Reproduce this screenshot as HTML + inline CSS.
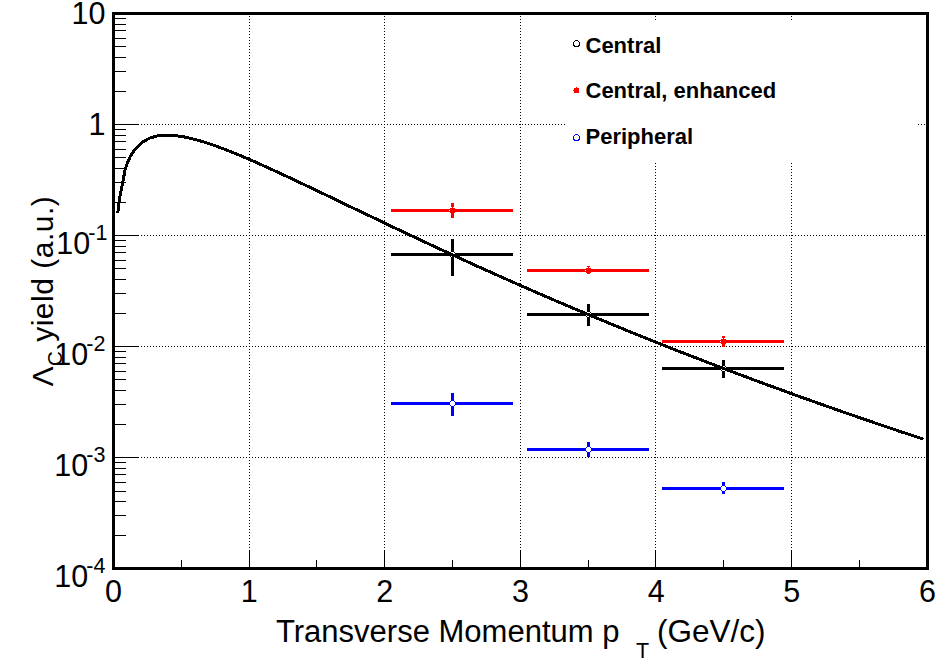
<!DOCTYPE html><html><head><meta charset="utf-8"><style>html,body{margin:0;padding:0;background:#fff;width:946px;height:669px;overflow:hidden}svg{display:block}text{font-family:"Liberation Sans",sans-serif}</style></head><body>
<svg width="946" height="669" viewBox="0 0 946 669">
<rect x="0" y="0" width="946" height="669" fill="#fff"/>
<g stroke="#000" stroke-width="1" stroke-dasharray="1 2" shape-rendering="crispEdges"><line x1="114" y1="124.5" x2="926" y2="124.5"/><line x1="114" y1="235.5" x2="926" y2="235.5"/><line x1="114" y1="346.5" x2="926" y2="346.5"/><line x1="114" y1="457.5" x2="926" y2="457.5"/><line x1="249.5" y1="13" x2="249.5" y2="567"/><line x1="384.5" y1="13" x2="384.5" y2="567"/><line x1="520.5" y1="13" x2="520.5" y2="567"/><line x1="655.5" y1="13" x2="655.5" y2="567"/><line x1="791.5" y1="13" x2="791.5" y2="567"/></g>
<rect x="566" y="21" width="352" height="142" fill="#fff"/>
<path d="M115 535.5H126M115 515.5H126M115 501.5H126M115 491.5H126M115 482.5H126M115 474.5H126M115 468.5H126M115 462.5H126M115 457.5H139M115 424.5H126M115 404.5H126M115 390.5H126M115 379.5H126M115 371.5H126M115 363.5H126M115 357.5H126M115 351.5H126M115 346.5H139M115 313.5H126M115 293.5H126M115 279.5H126M115 268.5H126M115 260.5H126M115 252.5H126M115 246.5H126M115 240.5H126M115 235.5H139M115 202.5H126M115 182.5H126M115 168.5H126M115 157.5H126M115 149.5H126M115 141.5H126M115 135.5H126M115 129.5H126M115 124.5H139M115 91.5H126M115 71.5H126M115 57.5H126M115 46.5H126M115 38.5H126M115 30.5H126M115 24.5H126M115 18.5H126M115 91.5H126M115 71.5H126M115 57.5H126M115 46.5H126M115 38.5H126M115 30.5H126M115 24.5H126M115 18.5H126M181.5 567V560M249.5 567V551M316.5 567V560M384.5 567V551M452.5 567V560M520.5 567V551M588.5 567V560M655.5 567V551M723.5 567V560M791.5 567V551M859.5 567V560" stroke="#000" stroke-width="1" fill="none" shape-rendering="crispEdges"/>
<rect x="113.5" y="13.5" width="814" height="555" fill="none" stroke="#000" stroke-width="3" shape-rendering="crispEdges"/>
<g font-size="30.5" fill="#000">
<text x="105.5" y="24" text-anchor="end">10</text>
<text x="105.5" y="135" text-anchor="end">1</text>
<text x="107.4" y="254" text-anchor="end">10<tspan dx="-2" dy="-14" font-size="21.5">-1</tspan></text>
<text x="105.4" y="365" text-anchor="end">10<tspan dx="-2" dy="-14" font-size="21.5">-2</tspan></text>
<text x="105.4" y="476" text-anchor="end">10<tspan dx="-2" dy="-14" font-size="21.5">-3</tspan></text>
<text x="105.4" y="587" text-anchor="end">10<tspan dx="-2" dy="-14" font-size="21.5">-4</tspan></text>
<text x="113.5" y="602" text-anchor="middle">0</text>
<text x="249.16666666666666" y="602" text-anchor="middle">1</text>
<text x="384.8333333333333" y="602" text-anchor="middle">2</text>
<text x="520.5" y="602" text-anchor="middle">3</text>
<text x="656.1666666666666" y="602" text-anchor="middle">4</text>
<text x="791.8333333333333" y="602" text-anchor="middle">5</text>
<text x="927.5" y="602" text-anchor="middle">6</text>
</g>
<text x="276" y="642" font-size="31">Transverse Momentum p</text>
<text x="636" y="657.5" font-size="21.5">T</text>
<text x="657" y="642" font-size="31.5">(GeV/c)</text>
<g transform="translate(53,386.5) rotate(-90)"><text x="0" y="0" font-size="30" letter-spacing="0.5">Λ<tspan font-size="20.5" dy="8.5">C</tspan><tspan dy="-8.5"> yield (a.u.)</tspan></text></g>
<g font-size="22" font-weight="bold"><text x="585.5" y="53">Central</text><text x="585.5" y="98">Central, enhanced</text><text x="585.5" y="144">Peripheral</text></g>
<circle cx="576.5" cy="43.5" r="3" fill="#fff" stroke="#000" stroke-width="1" shape-rendering="crispEdges"/>
<g fill="#f00" shape-rendering="crispEdges"><rect x="574" y="88" width="5" height="5"/><rect x="576" y="87" width="1" height="1"/><rect x="573" y="90" width="1" height="1"/></g>
<circle cx="576.5" cy="137.5" r="3" fill="#fff" stroke="#00f" stroke-width="1" shape-rendering="crispEdges"/>
<g fill="#000" shape-rendering="crispEdges"><rect x="391" y="253" width="122" height="3"/><rect x="451" y="239" width="3" height="37"/></g><g shape-rendering="crispEdges"><rect x="450" y="252" width="5" height="5" fill="#fff"/><g fill="#000"><rect x="450" y="252" width="1" height="1"/><rect x="454" y="252" width="1" height="1"/><rect x="450" y="256" width="1" height="1"/><rect x="454" y="256" width="1" height="1"/></g></g>
<g fill="#f00" shape-rendering="crispEdges"><rect x="391" y="209" width="122" height="3"/><rect x="451" y="203" width="3" height="15"/></g><rect x="450" y="208" width="5" height="5" fill="#f00" shape-rendering="crispEdges"/><g fill="#fff" shape-rendering="crispEdges"><rect x="451" y="207" width="1" height="1"/><rect x="453" y="207" width="1" height="1"/><rect x="449" y="210" width="1" height="1"/></g>
<g fill="#00f" shape-rendering="crispEdges"><rect x="391" y="402" width="122" height="3"/><rect x="451" y="393" width="3" height="23"/></g><g shape-rendering="crispEdges"><rect x="450" y="401" width="5" height="5" fill="#fff"/><g fill="#00f"><rect x="450" y="401" width="1" height="1"/><rect x="454" y="401" width="1" height="1"/><rect x="450" y="405" width="1" height="1"/><rect x="454" y="405" width="1" height="1"/></g></g>
<g fill="#000" shape-rendering="crispEdges"><rect x="527" y="313" width="122" height="3"/><rect x="587" y="304" width="3" height="22"/></g><g shape-rendering="crispEdges"><rect x="586" y="312" width="5" height="5" fill="#fff"/><g fill="#000"><rect x="586" y="312" width="1" height="1"/><rect x="590" y="312" width="1" height="1"/><rect x="586" y="316" width="1" height="1"/><rect x="590" y="316" width="1" height="1"/></g></g>
<g fill="#f00" shape-rendering="crispEdges"><rect x="527" y="269" width="122" height="3"/><rect x="587" y="266" width="3" height="8"/></g><rect x="586" y="268" width="5" height="5" fill="#f00" shape-rendering="crispEdges"/><g fill="#fff" shape-rendering="crispEdges"><rect x="587" y="267" width="1" height="1"/><rect x="589" y="267" width="1" height="1"/><rect x="585" y="270" width="1" height="1"/></g>
<g fill="#00f" shape-rendering="crispEdges"><rect x="527" y="448" width="122" height="3"/><rect x="587" y="442" width="3" height="15"/></g><g shape-rendering="crispEdges"><rect x="586" y="447" width="5" height="5" fill="#fff"/><g fill="#00f"><rect x="586" y="447" width="1" height="1"/><rect x="590" y="447" width="1" height="1"/><rect x="586" y="451" width="1" height="1"/><rect x="590" y="451" width="1" height="1"/></g></g>
<g fill="#000" shape-rendering="crispEdges"><rect x="662" y="367" width="122" height="3"/><rect x="722" y="360" width="3" height="18"/></g><g shape-rendering="crispEdges"><rect x="721" y="366" width="5" height="5" fill="#fff"/><g fill="#000"><rect x="721" y="366" width="1" height="1"/><rect x="725" y="366" width="1" height="1"/><rect x="721" y="370" width="1" height="1"/><rect x="725" y="370" width="1" height="1"/></g></g>
<g fill="#f00" shape-rendering="crispEdges"><rect x="662" y="340" width="122" height="3"/><rect x="722" y="336" width="3" height="11"/></g><rect x="721" y="339" width="5" height="5" fill="#f00" shape-rendering="crispEdges"/><g fill="#fff" shape-rendering="crispEdges"><rect x="722" y="338" width="1" height="1"/><rect x="724" y="338" width="1" height="1"/><rect x="720" y="341" width="1" height="1"/></g>
<g fill="#00f" shape-rendering="crispEdges"><rect x="662" y="487" width="122" height="3"/><rect x="722" y="482" width="3" height="12"/></g><g shape-rendering="crispEdges"><rect x="721" y="486" width="5" height="5" fill="#fff"/><g fill="#00f"><rect x="721" y="486" width="1" height="1"/><rect x="725" y="486" width="1" height="1"/><rect x="721" y="490" width="1" height="1"/><rect x="725" y="490" width="1" height="1"/></g></g>
<path d="M117.7 213.2 L119.8 197.0 L121.4 188.7 L123.0 181.4 L124.3 174.0 L125.1 169.3 L127.2 163.6 L130.3 156.3 L133.9 150.9 L142.0 142.4 L150.1 137.9 L158.3 135.7 L166.4 135.1 L174.6 135.5 L182.7 136.6 L190.8 138.4 L199.0 140.5 L207.1 143.0 L215.3 145.8 L223.4 148.8 L231.5 152.0 L239.7 155.3 L247.8 158.8 L256.0 162.3 L264.1 166.0 L272.2 169.7 L280.4 173.4 L288.5 177.2 L296.7 181.0 L304.8 184.9 L312.9 188.8 L321.1 192.7 L329.2 196.5 L337.4 200.4 L345.5 204.4 L353.6 208.3 L361.8 212.2 L369.9 216.0 L378.1 219.9 L386.2 223.8 L394.3 227.7 L402.5 231.5 L410.6 235.4 L418.8 239.2 L426.9 243.0 L435.0 246.8 L443.2 250.6 L451.3 254.3 L459.5 258.1 L467.6 261.8 L475.7 265.5 L483.9 269.2 L492.0 272.8 L500.2 276.5 L508.3 280.1 L516.4 283.7 L524.6 287.3 L532.7 290.8 L540.9 294.4 L549.0 297.9 L557.1 301.4 L565.3 304.8 L573.4 308.3 L581.6 311.7 L589.7 315.2 L597.8 318.5 L606.0 321.9 L614.1 325.3 L622.3 328.6 L630.4 331.9 L638.5 335.2 L646.7 338.5 L654.8 341.8 L663.0 345.0 L671.1 348.2 L679.2 351.4 L687.4 354.6 L695.5 357.7 L703.7 360.9 L711.8 364.0 L719.9 367.1 L728.1 370.2 L736.2 373.3 L744.4 376.3 L752.5 379.4 L760.6 382.4 L768.8 385.4 L776.9 388.3 L785.1 391.3 L793.2 394.3 L801.3 397.2 L809.5 400.1 L817.6 403.0 L825.8 405.9 L833.9 408.7 L842.0 411.6 L850.2 414.4 L858.3 417.2 L866.5 420.0 L874.6 422.8 L882.7 425.6 L890.9 428.3 L899.0 431.1 L907.2 433.8 L915.3 436.5 L923.4 439.2" fill="none" stroke="#000" stroke-width="3" stroke-linejoin="round" shape-rendering="crispEdges"/>
</svg></body></html>
